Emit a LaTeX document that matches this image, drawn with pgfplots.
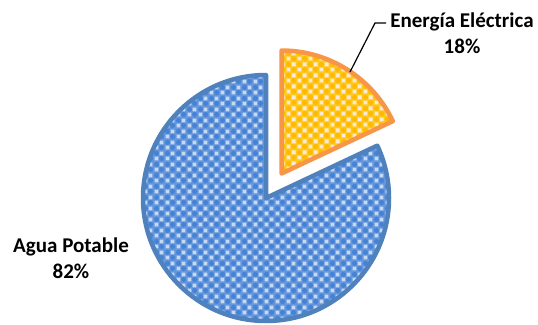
\documentclass[border=0pt]{standalone}
\usepackage{pgfplots}
\pgfplotsset{compat=1.18}
\usepackage{pgfplotstable}
\usetikzlibrary{patterns}
\usepackage{fontspec}
\setmainfont{Carlito}
\definecolor{bluefill}{HTML}{6396DD}
\definecolor{bluelight}{HTML}{C6D9F1}
\definecolor{bluedark}{HTML}{4682D4}
\definecolor{blueedge}{HTML}{4F81BD}
\definecolor{orfill}{HTML}{FFC81C}
\definecolor{orlight}{HTML}{FDE9D9}
\definecolor{ordark}{HTML}{FFBA00}
\definecolor{oredge}{HTML}{F79646}
\pgfdeclarepatternformonly{sq}{\pgfpointorigin}{\pgfqpoint{11bp}{11bp}}{\pgfqpoint{11bp}{11bp}}{%
  \pgfpathrectangle{\pgfqpoint{0.7bp}{0.7bp}}{\pgfqpoint{4.1bp}{4.1bp}}%
  \pgfpathrectangle{\pgfqpoint{6.2bp}{6.2bp}}{\pgfqpoint{4.1bp}{4.1bp}}%
  \pgfusepath{fill}}
\pgfdeclarepatternformonly{ci}{\pgfpointorigin}{\pgfqpoint{11bp}{11bp}}{\pgfqpoint{11bp}{11bp}}{%
  \pgfpathcircle{\pgfqpoint{8.25bp}{2.75bp}}{2.7bp}%
  \pgfpathcircle{\pgfqpoint{2.75bp}{8.25bp}}{2.7bp}%
  \pgfusepath{fill}}
\pgfplotstableread{
label value
Agua 82
Energia 18
}\piedata
\begin{document}
\begin{tikzpicture}
\pgfplotstablegetelem{0}{value}\of\piedata \let\va\pgfplotsretval
\pgfplotstablegetelem{1}{value}\of\piedata \let\vb\pgfplotsretval
\pgfmathsetmacro{\angA}{3.6*\va}
\pgfmathsetmacro{\angB}{3.6*\vb}
\pgfmathsetmacro{\endA}{90+\angA}
\pgfmathsetmacro{\startB}{90-\angB}
\pgfmathsetmacro{\midB}{90-\angB/2}
\begin{axis}[width=538bp,height=325bp,scale only axis,
  xmin=0,xmax=538,ymin=0,ymax=325,y dir=reverse,hide axis,clip=false]
% blue slice
\fill[bluefill] (axis cs:266,198) -- ++(90:123bp) arc[start angle=90,end angle=\endA,radius=123bp] -- cycle;
\fill[pattern=ci,pattern color=bluedark] (axis cs:266,198) -- ++(90:123bp) arc[start angle=90,end angle=\endA,radius=123bp] -- cycle;
\fill[pattern=sq,pattern color=bluelight] (axis cs:266,198) -- ++(90:123bp) arc[start angle=90,end angle=\endA,radius=123bp] -- cycle;
\draw[blueedge,line width=4.5bp,line join=round] (axis cs:266,198) -- ++(90:123bp) arc[start angle=90,end angle=\endA,radius=123bp] -- cycle;
% orange slice (exploded)
\fill[orfill] (axis cs:266,198) ++(\midB:29bp) -- ++(\startB:123bp) arc[start angle=\startB,end angle=90,radius=123bp] -- cycle;
\fill[pattern=ci,pattern color=ordark] (axis cs:266,198) ++(\midB:29bp) -- ++(\startB:123bp) arc[start angle=\startB,end angle=90,radius=123bp] -- cycle;
\fill[pattern=sq,pattern color=orlight] (axis cs:266,198) ++(\midB:29bp) -- ++(\startB:123bp) arc[start angle=\startB,end angle=90,radius=123bp] -- cycle;
\draw[oredge,line width=4.5bp,line join=round] (axis cs:266,198) ++(\midB:29bp) -- ++(\startB:123bp) arc[start angle=\startB,end angle=90,radius=123bp] -- cycle;
% leader line
\draw[black,line width=1.2bp] (axis cs:350,72) -- (axis cs:375,23) -- (axis cs:386,23);
% labels
\node[align=center,inner sep=0pt,font=\fontsize{21bp}{26bp}\selectfont\bfseries] at (axis cs:462,33) {Energía Eléctrica\\18\%};
\node[align=center,inner sep=0pt,font=\fontsize{21bp}{26bp}\selectfont\bfseries] at (axis cs:71,258) {Agua Potable\\82\%};
\end{axis}
\pgfresetboundingbox
\useasboundingbox (current axis.south west) rectangle (current axis.north east);
\end{tikzpicture}
\end{document}
